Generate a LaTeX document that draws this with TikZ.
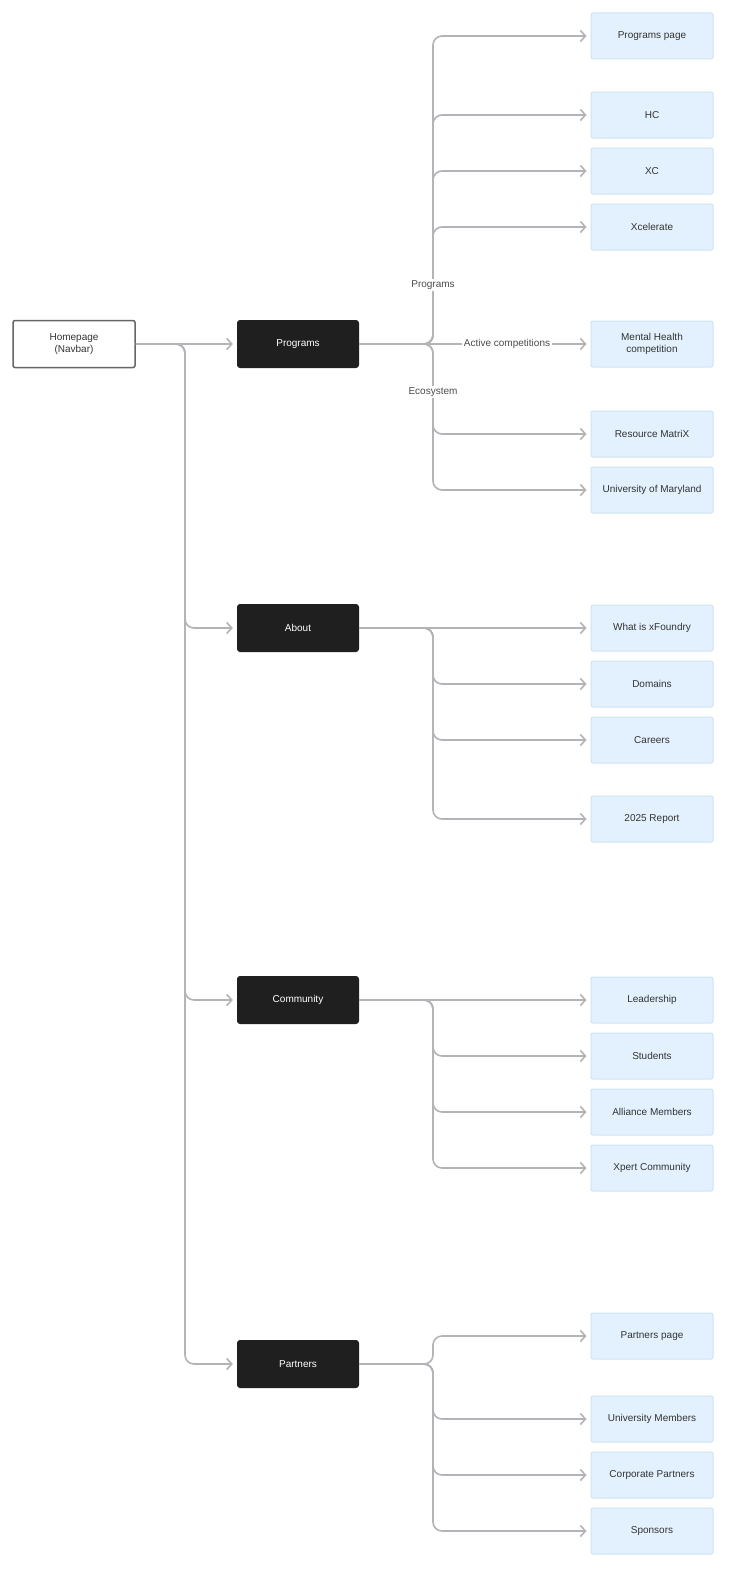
\documentclass[tikz,border=0pt]{standalone}
\usepackage{fontspec}
\setmainfont{Liberation Sans}
\usetikzlibrary{arrows.meta, positioning}
\definecolor{linkgray}{HTML}{B4B4B8}
\definecolor{leafblue}{HTML}{E2F1FD}
\definecolor{leafedge}{HTML}{CDE4F6}
\tikzset{
home/.style={draw=gray!120, line width=1.5pt, fill=white, rounded corners=2pt, minimum width=122pt, minimum height=47pt, align=center, text=black!80},
section/.style={fill=black!88, rounded corners=3pt, minimum width=122pt, minimum height=48pt, text=white},
leaf/.style={draw=leafedge, line width=1pt, fill=leafblue, rounded corners=2pt, minimum width=122pt, minimum height=46pt, align=center, text=black!80},
link/.style={draw=linkgray, line width=1.6pt, rounded corners=9pt, -{Straight Barb[length=5pt, width=11pt]}, shorten >=4pt},
branch/.style={fill=white, text=black!70, inner sep=2pt}
}
\begin{document}
\begin{tikzpicture}[x=1pt, y=-1pt, font=\fontsize{10}{12}\selectfont]
\useasboundingbox[fill=white] (0,0) rectangle (738,1595);
% ---- root and sections
\node[home] (home) at (74,344) {Homepage\\(Navbar)};
\node[section] (programs) at (298,344) {Programs};
\node[section] (about) at (298,628) {About};
\node[section] (community) at (298,1000) {Community};
\node[section] (partners) at (298,1364) {Partners};
\coordinate (trunk) at (185,344);
\draw[link] (home.east) -- (programs.west);
\foreach \s in {about, community, partners}
  \draw[link] (home.east) -| (trunk |- \s.west) -- (\s.west);
% ---- leaves
\foreach \n/\y/\t in {pp/36/Programs page, hc/115/HC, xc/171/XC, xcel/227/Xcelerate,
  mh/344/{Mental Health\\competition}, rm/434/Resource MatriX, umd/490/University of Maryland,
  what/628/What is xFoundry, dom/684/Domains, car/740/Careers, rep/819/2025 Report,
  lead/1000/Leadership, stu/1056/Students, all/1112/Alliance Members, xp/1168/Xpert Community,
  ppage/1336/Partners page, um/1419/University Members, cp/1475/Corporate Partners, sp/1531/Sponsors}
  \node[leaf] (\n) at (652,\y) {\t};
% ---- branches
\coordinate (split) at (433,344);
\foreach \n in {pp, hc, xc, xcel, rm, umd}
  \draw[link] (programs.east) -| (split |- \n.west) -- (\n.west);
\draw[link] (programs.east) -- (mh.west);
\node[branch] at (433,285) {Programs};
\node[branch] at (433,392) {Ecosystem};
\node[branch] at (507,344) {Active competitions};
\draw[link] (about.east) -- (what.west);
\foreach \n in {dom, car, rep}
  \draw[link] (about.east) -| (split |- \n.west) -- (\n.west);
\draw[link] (community.east) -- (lead.west);
\foreach \n in {stu, all, xp}
  \draw[link] (community.east) -| (split |- \n.west) -- (\n.west);
\foreach \n in {ppage, um, cp, sp}
  \draw[link] (partners.east) -| (split |- \n.west) -- (\n.west);
\end{tikzpicture}
\end{document}
